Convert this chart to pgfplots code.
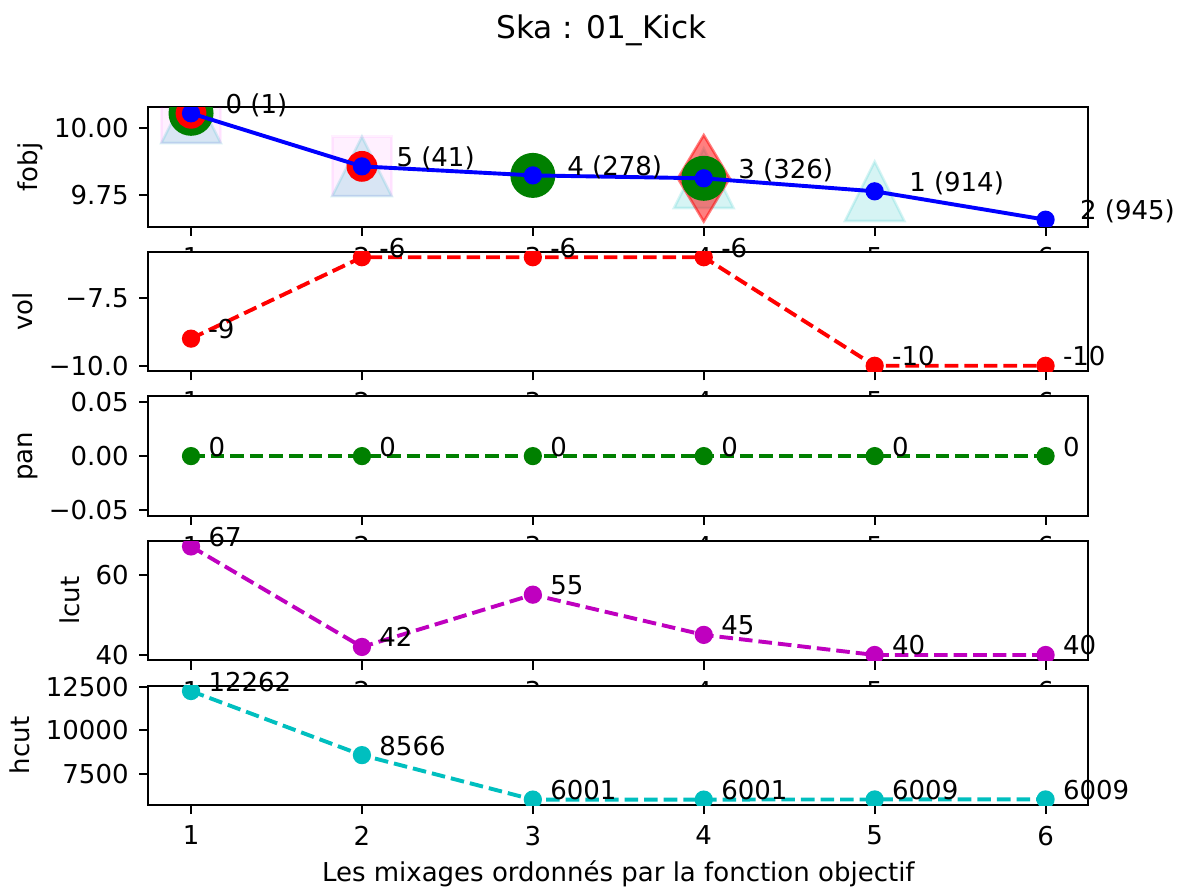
\documentclass[border=0pt]{standalone}
\usepackage{fontspec}
\setmainfont{DejaVu Sans}
\usepackage{pgfplots}
\pgfplotsset{compat=1.18}
\usetikzlibrary{plotmarks}

\definecolor{mplb}{RGB}{0,0,255}
\definecolor{mplr}{RGB}{255,0,0}
\definecolor{mplg}{RGB}{0,128,0}
\definecolor{mplm}{RGB}{191,0,191}
\definecolor{mplc}{RGB}{0,191,191}
\definecolor{mplpink}{RGB}{255,0,255}

\pgfdeclareplotmark{mpltri}{%
  \pgfpathmoveto{\pgfqpoint{0pt}{\pgfplotmarksize}}%
  \pgfpathlineto{\pgfqpoint{-\pgfplotmarksize}{-\pgfplotmarksize}}%
  \pgfpathlineto{\pgfqpoint{\pgfplotmarksize}{-\pgfplotmarksize}}%
  \pgfpathclose
  \pgfusepathqfillstroke}
\pgfdeclareplotmark{mplthin}{%
  \pgfpathmoveto{\pgfqpoint{0pt}{\pgfplotmarksize}}%
  \pgfpathlineto{\pgfqpoint{0.6\pgfplotmarksize}{0pt}}%
  \pgfpathlineto{\pgfqpoint{0pt}{-\pgfplotmarksize}}%
  \pgfpathlineto{\pgfqpoint{-0.6\pgfplotmarksize}{0pt}}%
  \pgfpathclose
  \pgfusepathqfillstroke}

\newcommand{\tf}{\fontsize{13}{15.6}\selectfont}
\tikzset{ann/.style={anchor=base west, inner sep=0pt, font=\tf}}

\pgfplotsset{
  panel/.style={
    scale only axis, width=470pt, height=59.7pt,
    anchor=south west,
    xmin=0.75, xmax=6.25,
    xtick={1,2,3,4,5,6},
    xticklabels={1,2,3,4,5,6},
    scaled ticks=false,
    tick pos=left,
    tick align=outside,
    major tick length=4.55pt,
    every tick/.style={black, line width=1.04pt},
    axis line style={line width=1.04pt},
    axis background/.style={fill=white},
    tick label style={font=\tf, inner sep=0pt},
    xticklabel style={anchor=north, yshift=-5.65pt},
    yticklabel style={anchor=east, xshift=-5.1pt},
    every axis y label/.style={at={(ticklabel cs:0.5,5.2pt)}, rotate=90, anchor=near ticklabel, inner sep=0pt, text depth=2.7pt, font=\tf},
    clip mode=individual,
    clip marker paths=true,
  },
  dline/.style={line width=1.95pt, dash pattern=on 6.8pt off 3pt, mark=*, mark size=3.9pt, mark options={solid, line width=1.3pt}},
}

\begin{document}
\begin{tikzpicture}
\path[use as bounding box] (0,0) rectangle (590.5pt,445.5pt);

% ---------- fobj ----------
\begin{axis}[panel, at={(74.15pt,332.2pt)}, ymin=9.630, ymax=10.080,
  ytick={9.75,10}, yticklabels={9.75,10.00}, ylabel={fobj}]
\addplot[only marks, mark=mpltri, mark size=14.85pt, line width=1.3pt,
  mark options={draw=mplc, fill=mplc, opacity=0.16}]
  coordinates {(1,10.057) (2,9.857) (4,9.812) (5,9.763)};
\addplot[only marks, mark=square*, mark size=14.85pt, line width=1.3pt,
  mark options={draw=mplpink, fill=mplpink, opacity=0.06}]
  coordinates {(1,10.057) (2,9.857)};
\addplot[only marks, mark=mplthin, mark size=21.6pt, line width=1.3pt,
  mark options={draw=mplr, fill=mplr, opacity=0.5}]
  coordinates {(4,9.812)};
\addplot[only marks, mark=*, mark size=10.6pt, line width=1.3pt, mplg]
  coordinates {(1,10.057) (3,9.823) (4,9.812)};
\addplot[only marks, mark=*, mark size=7.05pt, line width=1.3pt, mplr]
  coordinates {(1,10.057) (2,9.857)};
\addplot[mplb, line width=1.95pt, mark=*, mark size=3.9pt, mark options={line width=1.3pt}]
  coordinates {(1,10.057) (2,9.857) (3,9.823) (4,9.812) (5,9.763) (6,9.656)};
\node[ann] at (axis cs:1.2,10.057) {0 (1)};
\node[ann] at (axis cs:2.2,9.857) {5 (41)};
\node[ann] at (axis cs:3.2,9.823) {4 (278)};
\node[ann] at (axis cs:4.2,9.812) {3 (326)};
\node[ann] at (axis cs:5.2,9.763) {1 (914)};
\node[ann] at (axis cs:6.2,9.656) {2 (945)};
\end{axis}

% ---------- vol ----------
\begin{axis}[panel, at={(74.15pt,259.9pt)}, ymin=-10.2, ymax=-5.8,
  ytick={-10,-7.5}, yticklabels={−10.0,−7.5}, ylabel={vol}]
\addplot[mplr, dline] coordinates {(1,-9) (2,-6) (3,-6) (4,-6) (5,-10) (6,-10)};
\node[ann] at (axis cs:1.1,-9) {-9};
\node[ann] at (axis cs:2.1,-6) {-6};
\node[ann] at (axis cs:3.1,-6) {-6};
\node[ann] at (axis cs:4.1,-6) {-6};
\node[ann] at (axis cs:5.1,-10) {-10};
\node[ann] at (axis cs:6.1,-10) {-10};
\end{axis}

% ---------- pan ----------
\begin{axis}[panel, at={(74.15pt,187.6pt)}, ymin=-0.055, ymax=0.055,
  ytick={-0.05,0,0.05}, yticklabels={−0.05,0.00,0.05}, ylabel={pan}]
\addplot[mplg, dline] coordinates {(1,0) (2,0) (3,0) (4,0) (5,0) (6,0)};
\node[ann] at (axis cs:1.1,0) {0};
\node[ann] at (axis cs:2.1,0) {0};
\node[ann] at (axis cs:3.1,0) {0};
\node[ann] at (axis cs:4.1,0) {0};
\node[ann] at (axis cs:5.1,0) {0};
\node[ann] at (axis cs:6.1,0) {0};
\end{axis}

% ---------- lcut ----------
\begin{axis}[panel, at={(74.15pt,115.3pt)}, ymin=38.65, ymax=68.35,
  ytick={40,60}, yticklabels={40,60}, ylabel={lcut}]
\addplot[mplm, dline] coordinates {(1,67) (2,42) (3,55) (4,45) (5,40) (6,40)};
\node[ann] at (axis cs:1.1,67) {67};
\node[ann] at (axis cs:2.1,42) {42};
\node[ann] at (axis cs:3.1,55) {55};
\node[ann] at (axis cs:4.1,45) {45};
\node[ann] at (axis cs:5.1,40) {40};
\node[ann] at (axis cs:6.1,40) {40};
\end{axis}

% ---------- hcut ----------
\begin{axis}[panel, at={(74.15pt,43pt)}, ymin=5687.95, ymax=12575.05,
  ytick={7500,10000,12500}, yticklabels={7500,10000,12500}, ylabel={hcut},
  xlabel={Les mixages ordonnés par la fonction objectif},
  xlabel style={at={(rel axis cs:0.5,0)}, anchor=base, yshift=-38pt, inner sep=0pt, font=\tf}]
\addplot[mplc, dline] coordinates {(1,12262) (2,8566) (3,6001) (4,6001) (5,6009) (6,6009)};
\node[ann] at (axis cs:1.1,12262) {12262};
\node[ann] at (axis cs:2.1,8566) {8566};
\node[ann] at (axis cs:3.1,6001) {6001};
\node[ann] at (axis cs:4.1,6001) {6001};
\node[ann] at (axis cs:5.1,6009) {6009};
\node[ann] at (axis cs:6.1,6009) {6009};
\end{axis}

\node[anchor=base, inner sep=0pt, font=\fontsize{15.6}{18}\selectfont] at (300.75pt,426.35pt) {Ska : 01\_Kick};
\end{tikzpicture}
\end{document}
